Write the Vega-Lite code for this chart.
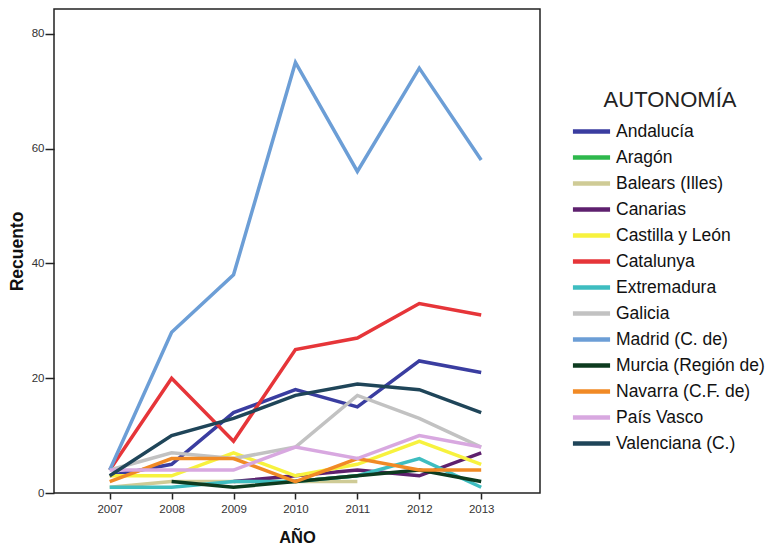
{
  "$schema": "https://vega.github.io/schema/vega-lite/v6.json",
  "autosize": "none",
  "width": 486,
  "height": 484,
  "padding": {"left": 54, "top": 9, "right": 237, "bottom": 55},
  "background": "white",
  "config": {
    "font": "Liberation Sans",
    "view": {"stroke": "#222", "strokeWidth": 1.5},
    "axis": {"grid": false, "domain": false, "tickColor": "#222", "tickWidth": 1.5, "labelFont": "Liberation Sans", "labelFontSize": 11.5, "labelColor": "#333", "titleFont": "Liberation Sans", "titleFontWeight": "bold", "titleColor": "#111"}
  },
  "data": {"values": [
    {"region": "Andalucía", "year": 2007, "count": 3},
    {"region": "Andalucía", "year": 2008, "count": 5},
    {"region": "Andalucía", "year": 2009, "count": 14},
    {"region": "Andalucía", "year": 2010, "count": 18},
    {"region": "Andalucía", "year": 2011, "count": 15},
    {"region": "Andalucía", "year": 2012, "count": 23},
    {"region": "Andalucía", "year": 2013, "count": 21},
    {"region": "Aragón", "year": 2010, "count": 2},
    {"region": "Aragón", "year": 2011, "count": 3},
    {"region": "Balears (Illes)", "year": 2007, "count": 1},
    {"region": "Balears (Illes)", "year": 2008, "count": 2},
    {"region": "Balears (Illes)", "year": 2009, "count": 2},
    {"region": "Balears (Illes)", "year": 2010, "count": 2},
    {"region": "Balears (Illes)", "year": 2011, "count": 2},
    {"region": "Canarias", "year": 2009, "count": 2},
    {"region": "Canarias", "year": 2010, "count": 3},
    {"region": "Canarias", "year": 2011, "count": 4},
    {"region": "Canarias", "year": 2012, "count": 3},
    {"region": "Canarias", "year": 2013, "count": 7},
    {"region": "Castilla y León", "year": 2007, "count": 3},
    {"region": "Castilla y León", "year": 2008, "count": 3},
    {"region": "Castilla y León", "year": 2009, "count": 7},
    {"region": "Castilla y León", "year": 2010, "count": 3},
    {"region": "Castilla y León", "year": 2011, "count": 5},
    {"region": "Castilla y León", "year": 2012, "count": 9},
    {"region": "Castilla y León", "year": 2013, "count": 5},
    {"region": "Catalunya", "year": 2007, "count": 4},
    {"region": "Catalunya", "year": 2008, "count": 20},
    {"region": "Catalunya", "year": 2009, "count": 9},
    {"region": "Catalunya", "year": 2010, "count": 25},
    {"region": "Catalunya", "year": 2011, "count": 27},
    {"region": "Catalunya", "year": 2012, "count": 33},
    {"region": "Catalunya", "year": 2013, "count": 31},
    {"region": "Extremadura", "year": 2007, "count": 1},
    {"region": "Extremadura", "year": 2008, "count": 1},
    {"region": "Extremadura", "year": 2009, "count": 2},
    {"region": "Extremadura", "year": 2010, "count": 2},
    {"region": "Extremadura", "year": 2011, "count": 3},
    {"region": "Extremadura", "year": 2012, "count": 6},
    {"region": "Extremadura", "year": 2013, "count": 1},
    {"region": "Galicia", "year": 2007, "count": 4},
    {"region": "Galicia", "year": 2008, "count": 7},
    {"region": "Galicia", "year": 2009, "count": 6},
    {"region": "Galicia", "year": 2010, "count": 8},
    {"region": "Galicia", "year": 2011, "count": 17},
    {"region": "Galicia", "year": 2012, "count": 13},
    {"region": "Galicia", "year": 2013, "count": 8},
    {"region": "Madrid (C. de)", "year": 2007, "count": 4},
    {"region": "Madrid (C. de)", "year": 2008, "count": 28},
    {"region": "Madrid (C. de)", "year": 2009, "count": 38},
    {"region": "Madrid (C. de)", "year": 2010, "count": 75},
    {"region": "Madrid (C. de)", "year": 2011, "count": 56},
    {"region": "Madrid (C. de)", "year": 2012, "count": 74},
    {"region": "Madrid (C. de)", "year": 2013, "count": 58},
    {"region": "Murcia (Región de)", "year": 2008, "count": 2},
    {"region": "Murcia (Región de)", "year": 2009, "count": 1},
    {"region": "Murcia (Región de)", "year": 2010, "count": 2},
    {"region": "Murcia (Región de)", "year": 2011, "count": 3},
    {"region": "Murcia (Región de)", "year": 2012, "count": 4},
    {"region": "Murcia (Región de)", "year": 2013, "count": 2},
    {"region": "Navarra (C.F. de)", "year": 2007, "count": 2},
    {"region": "Navarra (C.F. de)", "year": 2008, "count": 6},
    {"region": "Navarra (C.F. de)", "year": 2009, "count": 6},
    {"region": "Navarra (C.F. de)", "year": 2010, "count": 2},
    {"region": "Navarra (C.F. de)", "year": 2011, "count": 6},
    {"region": "Navarra (C.F. de)", "year": 2012, "count": 4},
    {"region": "Navarra (C.F. de)", "year": 2013, "count": 4},
    {"region": "País Vasco", "year": 2007, "count": 4},
    {"region": "País Vasco", "year": 2008, "count": 4},
    {"region": "País Vasco", "year": 2009, "count": 4},
    {"region": "País Vasco", "year": 2010, "count": 8},
    {"region": "País Vasco", "year": 2011, "count": 6},
    {"region": "País Vasco", "year": 2012, "count": 10},
    {"region": "País Vasco", "year": 2013, "count": 8},
    {"region": "Valenciana (C.)", "year": 2007, "count": 3},
    {"region": "Valenciana (C.)", "year": 2008, "count": 10},
    {"region": "Valenciana (C.)", "year": 2009, "count": 13},
    {"region": "Valenciana (C.)", "year": 2010, "count": 17},
    {"region": "Valenciana (C.)", "year": 2011, "count": 19},
    {"region": "Valenciana (C.)", "year": 2012, "count": 18},
    {"region": "Valenciana (C.)", "year": 2013, "count": 14}
  ]},
  "mark": {"type": "line", "strokeWidth": 3.5, "strokeJoin": "miter"},
  "encoding": {
    "x": {"field": "year", "type": "quantitative", "title": "AÑO",
      "scale": {"domain": [2006.1, 2013.95], "nice": false, "zero": false},
      "axis": {"values": [2007, 2008, 2009, 2010, 2011, 2012, 2013], "format": "d", "tickSize": 6, "labelPadding": 4, "titlePadding": 15, "titleFontSize": 16.5}},
    "y": {"field": "count", "type": "quantitative", "title": "Recuento",
      "scale": {"domain": [0, 84.3], "nice": false},
      "axis": {"values": [0, 20, 40, 60, 80], "tickSize": 9, "labelPadding": 1, "titlePadding": 5, "titleFontSize": 17.5}},
    "color": {"field": "region", "type": "nominal", "title": "AUTONOMÍA",
      "scale": {
        "domain": ["Andalucía", "Aragón", "Balears (Illes)", "Canarias", "Castilla y León", "Catalunya", "Extremadura", "Galicia", "Madrid (C. de)", "Murcia (Región de)", "Navarra (C.F. de)", "País Vasco", "Valenciana (C.)"],
        "range": ["#3a3da0", "#2eb84c", "#cfcb96", "#5e206e", "#f7f23e", "#e63539", "#3ebdc0", "#c2c2c2", "#6c9ed6", "#0d3b1f", "#f18a25", "#d8a8e0", "#1f4559"]
      },
      "legend": {"orient": "none", "legendX": 521, "legendY": 81, "symbolType": "M-1.33,0H1.33", "symbolStrokeWidth": 4.5, "symbolSize": 780, "labelFont": "Liberation Sans", "labelFontSize": 17.5, "labelColor": "#111", "titleFont": "Liberation Sans", "titleFontSize": 22, "titleFontWeight": "normal", "titleColor": "#222", "titlePadding": 3, "titleAnchor": "middle", "rowPadding": 0, "labelOffset": 8, "labelLimit": 300}
    }
  }
}
